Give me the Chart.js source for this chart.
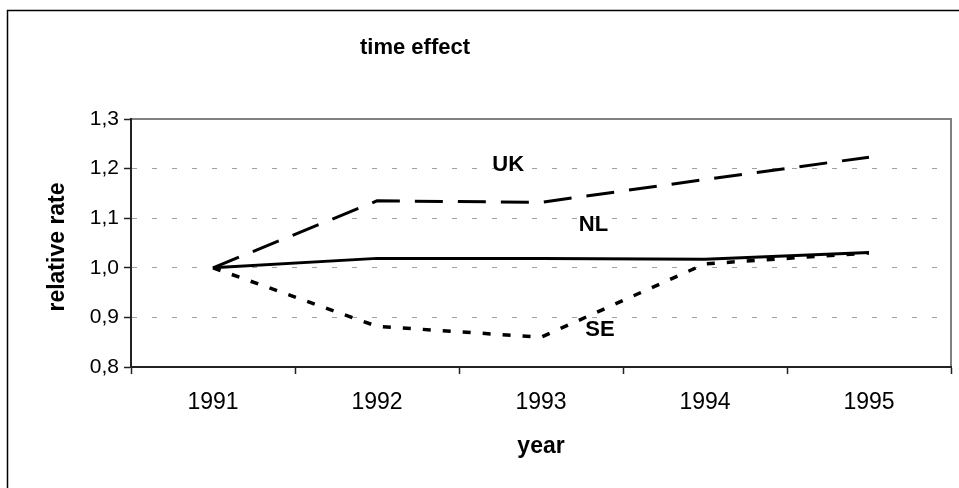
<!DOCTYPE html>
<html>
<head>
<meta charset="utf-8">
<title>time effect</title>
<script src="https://cdn.jsdelivr.net/npm/chart.js@4/dist/chart.umd.min.js"></script>
<style>
    html, body { margin: 0; padding: 0; background: #fff; }
    #wrap { width: 959px; height: 488px; }
</style>
</head>
<body>
<div id="wrap"><canvas id="timeChart" width="959" height="488"></canvas></div>
<script>
// values
const years = ['1991', '1992', '1993', '1994', '1995'];
const ukRate = [1.0, 1.135, 1.132, 1.178, 1.223];
const nlRate = [1.0, 1.019, 1.019, 1.017, 1.031];
const seRate = [1.0, 0.882, 0.86, 1.008, 1.03];
const yTicks = [0.8, 0.9, 1.0, 1.1, 1.2, 1.3];

// series labels placed in data units (category index, value)
const seriesLabels = [
    { text: 'UK', x: 1.8, y: 1.207 },
    { text: 'NL', x: 2.32, y: 1.086 },
    { text: 'SE', x: 2.36, y: 0.875 }
];

const FONT = '"Liberation Sans", Arial, sans-serif';

function commaNum(v) {
    return Number(v).toFixed(1).replace('.', ',');
}

// frame, plot border, titles and series labels
const decorPlugin = {
    id: 'decor',
    beforeDraw(chart) {
        const ctx = chart.ctx;
        const a = chart.chartArea;
        ctx.save();
        // outer frame
        ctx.strokeStyle = '#000';
        ctx.lineWidth = 1.5;
        ctx.strokeRect(7.5, 10.5, 1000, 1000);
        // grey plot border (top/right)
        ctx.strokeStyle = '#808080';
        ctx.lineWidth = 2;
        ctx.beginPath();
        ctx.moveTo(a.left, a.top);
        ctx.lineTo(a.right, a.top);
        ctx.lineTo(a.right, a.bottom);
        ctx.stroke();
        ctx.restore();
    },
    afterDraw(chart) {
        const ctx = chart.ctx;
        const a = chart.chartArea;
        const xs = chart.scales.x;
        const ys = chart.scales.y;
        ctx.save();
        ctx.fillStyle = '#000';
        ctx.textAlign = 'center';
        ctx.textBaseline = 'alphabetic';
        ctx.font = 'bold 22px ' + FONT;
        ctx.fillText('time effect', 415, 54);
        ctx.font = 'bold 23px ' + FONT;
        ctx.fillText('year', (a.left + a.right) / 2, 453);
        ctx.save();
        ctx.translate(64, 247);
        ctx.rotate(-Math.PI / 2);
        ctx.fillText('relative rate', 0, 0);
        ctx.restore();

        ctx.font = 'bold 22px ' + FONT;
        ctx.textBaseline = 'middle';
        seriesLabels.forEach(l => {
            ctx.fillText(l.text, xs.getPixelForValue(l.x), ys.getPixelForValue(l.y));
        });
        ctx.restore();
    }
};

new Chart(document.getElementById('timeChart'), {
    type: 'line',
    data: {
        labels: years,
        datasets: [
            {
                label: 'UK',
                data: ukRate,
                borderColor: '#000',
                borderWidth: 3,
                borderDash: [28, 15],
                pointRadius: 0,
                tension: 0
            },
            {
                label: 'NL',
                data: nlRate,
                borderColor: '#000',
                borderWidth: 3,
                pointRadius: 0,
                tension: 0
            },
            {
                label: 'SE',
                data: seRate,
                borderColor: '#000',
                borderWidth: 3.5,
                borderDash: [8, 12],
                pointRadius: 0,
                tension: 0
            }
        ]
    },
    options: {
        responsive: false,
        animation: false,
        layout: { padding: { left: 0, right: 8, top: 119, bottom: 0 } },
        plugins: {
            legend: { display: false },
            tooltip: { enabled: false }
        },
        scales: {
            x: {
                offset: true,
                afterFit(scale) { scale.height = 121; },
                grid: {
                    offset: true,
                    drawOnChartArea: false,
                    tickLength: 7,
                    tickColor: '#222',
                    tickWidth: 1.5
                },
                border: { color: '#222', width: 2 },
                ticks: {
                    color: '#000',
                    padding: 15,
                    font: { family: FONT, size: 23 }
                }
            },
            y: {
                min: 0.8,
                max: 1.3,
                afterFit(scale) { scale.width = 131; },
                afterBuildTicks(scale) {
                    scale.ticks = yTicks.map(v => ({ value: v }));
                },
                grid: {
                    color(c) {
                        const v = c.tick ? c.tick.value : null;
                        return (v === 0.8 || v === 1.3) ? 'rgba(0,0,0,0)' : '#a0a0a0';
                    },
                    lineWidth: 1,
                    tickLength: 7,
                    tickColor: '#222',
                    tickWidth: 1.5,
                    tickBorderDash: []
                },
                border: { color: '#222', width: 2, dash: [5, 15] },
                ticks: {
                    color: '#000',
                    padding: 5,
                    font: { family: FONT, size: 21 },
                    callback: v => commaNum(v)
                }
            }
        }
    },
    plugins: [decorPlugin]
});
</script>
</body>
</html>
